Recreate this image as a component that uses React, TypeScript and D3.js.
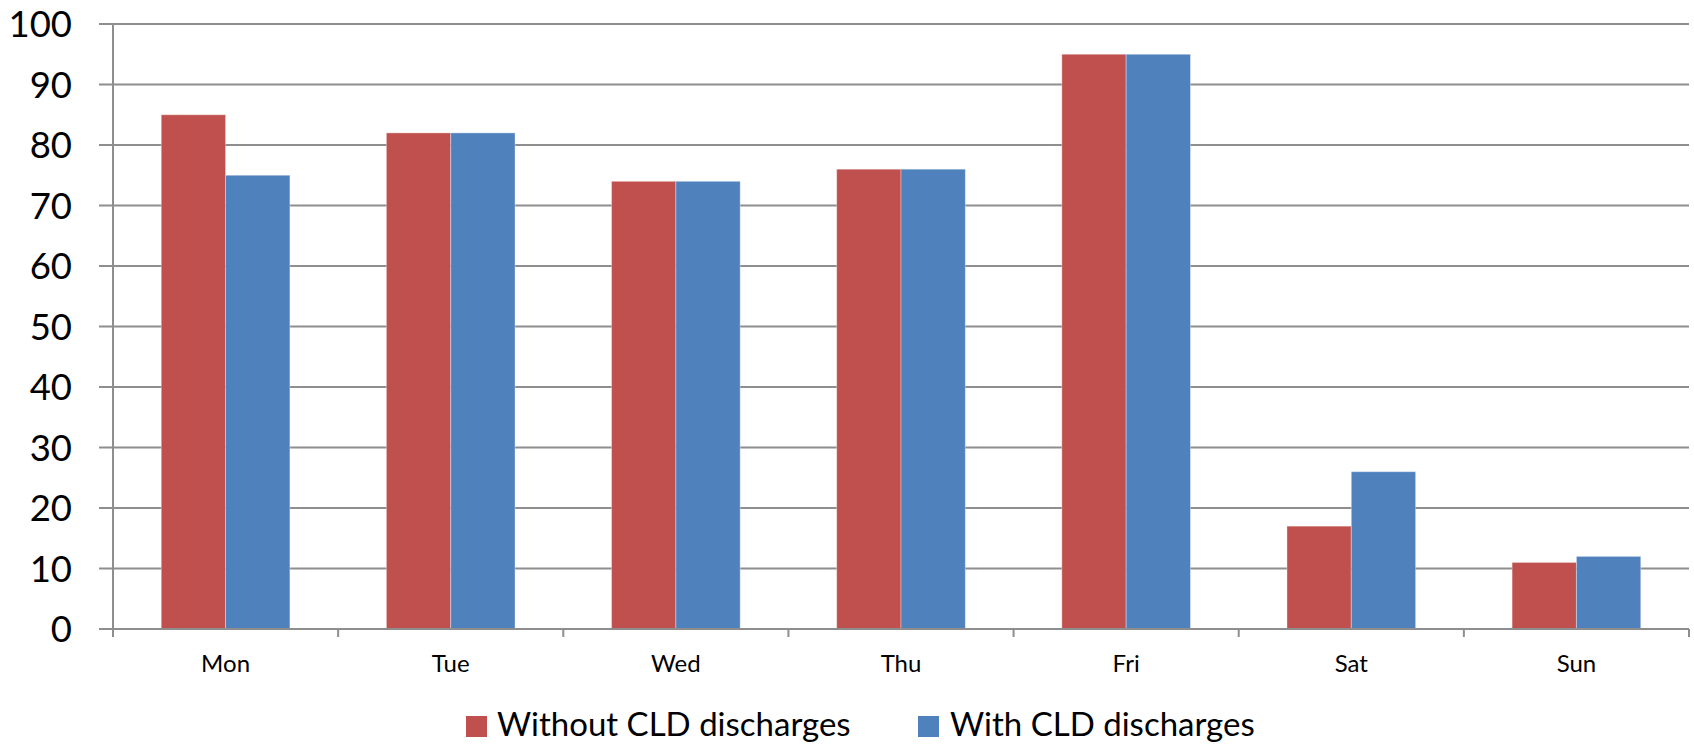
import React from "react";
import * as d3 from "d3";

const categories = ["Mon", "Tue", "Wed", "Thu", "Fri", "Sat", "Sun"];
const withoutCLD = [85, 82, 74, 76, 95, 17, 11];
const withCLD = [75, 82, 74, 76, 95, 26, 12];
const yTicks = [0, 10, 20, 30, 40, 50, 60, 70, 80, 90, 100];
const seriesNames = ["Without CLD discharges", "With CLD discharges"];
const seriesColors = ["#C0504D", "#4F81BD"];

const W = 1694;
const H = 744;
const left = 113;
const right = 1689;
const top = 24;
const bottom = 629;
const FONT = "Lato, 'Open Sans', sans-serif";

export default function App() {
  const x = d3.scaleBand<string>().domain(categories).range([left, right]).paddingInner(0).paddingOuter(0);
  const y = d3.scaleLinear().domain([0, 100]).range([bottom, top]);
  const bw = x.bandwidth();
  const barW = bw / 3.5;
  const series = [withoutCLD, withCLD];
  const gridColor = "#8e8e8e";

  return (
    <div style={{ position: "absolute", left: 0, top: 0 }}>
      <svg width={W} height={H} style={{ display: "block", background: "#fff" }}>
        {yTicks.map((t) => (
          <line key={"g" + t} x1={99} x2={right} y1={y(t)} y2={y(t)} stroke={gridColor} strokeWidth={2} />
        ))}
        {yTicks.map((t) => (
          <text key={"yl" + t} x={72} y={y(t) + 13} textAnchor="end" fontFamily={FONT} fontSize={36.5} fill="#000">
            {t}
          </text>
        ))}
        {categories.map((c, i) => (
          <g key={c}>
            {series.map((s, k) => (
              <rect
                key={k}
                x={(x(c) as number) + (bw * 0.75) / 3.5 + k * barW}
                y={y(s[i])}
                width={barW}
                height={y(0) - y(s[i])}
                fill={seriesColors[k]}
                stroke="#ffffff"
                strokeOpacity={0.35}
                strokeWidth={1}
              />
            ))}
          </g>
        ))}
        <line x1={left} x2={left} y1={top} y2={637} stroke={gridColor} strokeWidth={2} />
        <line x1={99} x2={right} y1={bottom} y2={bottom} stroke={gridColor} strokeWidth={2} />
        {categories.map((c) => (
          <line key={"t" + c} x1={(x(c) as number) + bw} x2={(x(c) as number) + bw} y1={bottom} y2={637} stroke={gridColor} strokeWidth={2} />
        ))}
        {categories.map((c) => (
          <text key={"xl" + c} x={(x(c) as number) + bw / 2} y={672} textAnchor="middle" fontFamily={FONT} fontSize={24} fill="#000">
            {c}
          </text>
        ))}
        <rect x={466} y={716} width={21} height={21} fill={seriesColors[0]} />
        <text x={497} y={736} fontFamily={FONT} fontSize={33} fill="#000">{seriesNames[0]}</text>
        <rect x={918} y={716} width={21} height={21} fill={seriesColors[1]} />
        <text x={950} y={736} fontFamily={FONT} fontSize={33} fill="#000">{seriesNames[1]}</text>
      </svg>
    </div>
  );
}
